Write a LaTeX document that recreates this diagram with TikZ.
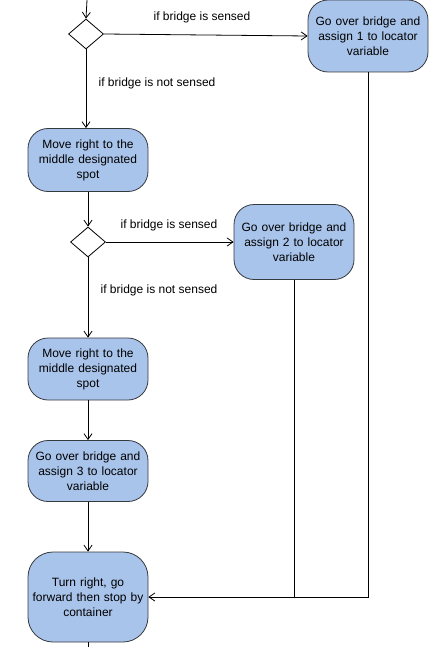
\documentclass[tikz,border=0pt]{standalone}
\usepackage{fontspec}
\setmainfont{Liberation Sans}
\usetikzlibrary{shapes.geometric,arrows.meta}
\definecolor{boxblue}{HTML}{A9C4EB}
\definecolor{boxline}{HTML}{36393D}
\tikzset{
  action/.style={draw=boxline,fill=boxblue,rounded corners=20pt,text width=120pt,align=center,inner sep=0pt,font=\fontsize{12}{15}\selectfont},
  choice/.style={draw,diamond,minimum width=35pt,minimum height=30pt,inner sep=0pt},
  cond/.style={font=\fontsize{12}{15}\selectfont}
}
\begin{document}
\begin{tikzpicture}[x=1pt,y=-1pt,>={Straight Barb[angle=70:7pt]},thick]
				\useasboundingbox (0,0) rectangle (430,647);
				\coordinate (start) at (87,0);
				\node[choice] (d1) at (86,34) {};
				\node[action,minimum height=72pt] (go1) at (368,36) {Go over bridge and\\assign 1 to locator\\variable};
				\node[action,minimum height=63pt] (move1) at (88,160) {Move right to the\\middle designated\\spot};
				\node[choice] (d2) at (88,242) {};
				\node[action,minimum height=75pt] (go2) at (294,242) {Go over bridge and\\assign 2 to locator\\variable};
				\node[action,minimum height=62pt] (move2) at (88,369) {Move right to the\\middle designated\\spot};
				\node[action,minimum height=61pt] (go3) at (88,471) {Go over bridge and\\assign 3 to locator\\variable};
				\node[action,minimum height=90pt,rounded corners=25pt] (turn) at (88,597) {Turn right, go\\forward then stop by\\container};
				\coordinate (end) at (88,647);
				\node[cond] (yes1) at (202,17) {if bridge is sensed};
				\node[cond] (no1) at (157,83) {if bridge is not sensed};
				\node[cond] (yes2) at (169,225) {if bridge is sensed};
				\node[cond] (no2) at (159,290) {if bridge is not sensed};
				\draw[->] (start) -- (d1.north);
				\draw[->] (d1.east) -- (go1.west);
				\draw[->] (d1.south) -- (d1.south |- move1.north);
				\draw[->] (move1.south) -- (d2.north);
				\draw[->] (d2.east) -- (go2.west);
				\draw[->] (d2.south) -- (move2.north);
				\draw[->] (move2.south) -- (go3.north);
				\draw[->] (go3.south) -- (turn.north);
				\draw[->] (go1.south) |- (turn.east);
				\draw (go2.south) -- (go2.south |- turn.east);
				\draw (turn.south) -- (end);
			\end{tikzpicture}
\end{document}
